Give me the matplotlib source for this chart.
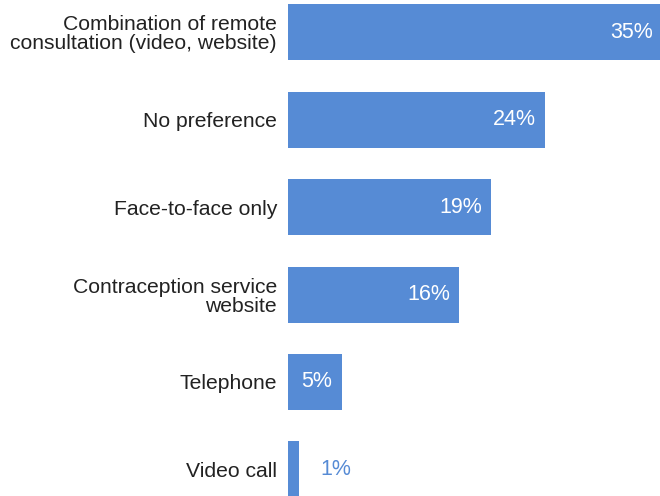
import matplotlib.pyplot as plt

plt.rcParams['font.family'] = ['Liberation Sans', 'DejaVu Sans']

# 偏好方式及占比
categories = ['Combination of remote\nconsultation (video, website)',
              'No preference',
              'Face-to-face only',
              'Contraception service\nwebsite',
              'Telephone',
              'Video call']
values = [35, 24, 19, 16, 5, 1]
labels = ['35%', '24%', '19%', '16%', '5%', '1%']

bar_color = '#568bd5'

fig = plt.figure(figsize=(6.6, 4.96), dpi=100)
ax = fig.add_axes([288 / 660, 0, 1 - 288 / 660, 1])

pos = list(range(len(values)))
ax.barh(pos, values, height=0.64, color=bar_color)

ax.set_xlim(0, 372 / 10.7)
ax.set_ylim(5.303, -0.366)

# 数值标签：长条内白字，短条外蓝字
for p, v, t in zip(pos, values, labels):
    if v >= 3:
        ax.text(v - 0.85, p, t, ha='right', va='center', color='white', fontsize=15.5)
    else:
        ax.text(v + 2.0, p, t, ha='left', va='center', color=bar_color, fontsize=15.5)

ax.set_yticks(pos)
ax.set_yticklabels(categories, fontsize=15.2, color='#222222', linespacing=1.0)
ax.tick_params(axis='y', length=0, pad=8)
ax.set_xticks([])
for s in ax.spines.values():
    s.set_visible(False)

plt.savefig('out.png', dpi=100)
